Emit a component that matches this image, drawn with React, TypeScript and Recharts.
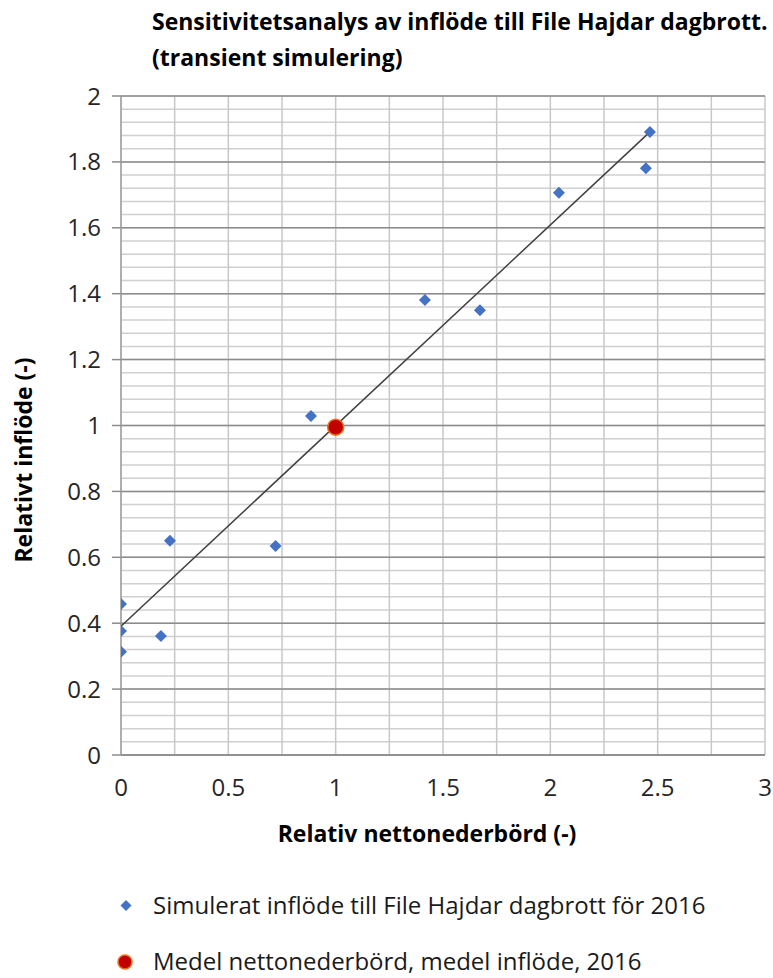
import React from "react";
import {
  ScatterChart,
  Scatter,
  XAxis,
  YAxis,
  ReferenceLine,
} from "recharts";

// simulated points: relative net precipitation vs relative inflow
const simX = [0, 0, 0, 0.186, 0.228, 0.72, 0.885, 1.416, 1.672, 2.04, 2.445, 2.464];
const simY = [0.458, 0.376, 0.313, 0.361, 0.65, 0.634, 1.029, 1.381, 1.35, 1.706, 1.781, 1.891];

const meanX = [1.0];
const meanY = [0.995];

// linear trendline end points
const trendX = [0, 2.464];
const trendY = [0.391, 1.891];

const xTicks = [0, 0.5, 1, 1.5, 2, 2.5, 3];
const yTicks = [0, 0.2, 0.4, 0.6, 0.8, 1, 1.2, 1.4, 1.6, 1.8, 2];

const TITLE1 = "Sensitivitetsanalys av inflöde till File Hajdar dagbrott.";
const TITLE2 = "(transient simulering)";
const X_LABEL = "Relativ nettonederbörd (-)";
const Y_LABEL = "Relativt inflöde (-)";
const LEG_SIM = "Simulerat inflöde till File Hajdar dagbrott för 2016";
const LEG_MEAN = "Medel nettonederbörd, medel inflöde, 2016";

const FONT = "'Open Sans', sans-serif";

const steps = (from: number, to: number, step: number) => {
  const out: number[] = [];
  for (let i = 0; from + i * step <= to + 1e-9; i++) out.push(+(from + i * step).toFixed(4));
  return out;
};
const minorY = steps(0, 2, 0.04);
const gridX = steps(0, 3, 0.25);

const simData = simX.map((x, i) => ({ x, y: simY[i] }));
const meanData = meanX.map((x, i) => ({ x, y: meanY[i] }));
const trendData = trendX.map((x, i) => ({ x, y: trendY[i] }));

const Diamond = (p: any) => {
  const { cx, cy } = p;
  const r = 6;
  return (
    <polygon
      points={`${cx},${cy - r} ${cx + r},${cy} ${cx},${cy + r} ${cx - r},${cy}`}
      fill="#4472c4"
    />
  );
};

const RedDot = (p: any) => (
  <circle cx={p.cx} cy={p.cy} r={8} fill="#c00000" stroke="#f07020" strokeWidth={1.5} />
);

export default function App() {
  const tick = { fill: "#262626", fontSize: 24, fontFamily: FONT };
  return (
    <div style={{ position: "absolute", left: 0, top: 0, width: 773, height: 978, background: "#fff", fontFamily: FONT }}>
      <div style={{ position: "absolute", left: 152, top: 3, fontWeight: 700, fontSize: 23, lineHeight: "36px", color: "#000", whiteSpace: "nowrap" }}>
        <div>{TITLE1}</div>
        <div>{TITLE2}</div>
      </div>
      <ScatterChart width={773} height={978} margin={{ top: 96, right: 8, bottom: 163, left: 0 }}>
        {minorY.map((v) => (
          <ReferenceLine key={"h" + v} y={v} stroke="#d0d0d0" strokeWidth={1.5} />
        ))}
        {gridX.map((v) => (
          <ReferenceLine key={"v" + v} x={v} stroke="#c8c8c8" strokeWidth={1.5} />
        ))}
        {yTicks.map((v) => (
          <ReferenceLine key={"m" + v} y={v} stroke="#8c8c8c" strokeWidth={1.5} />
        ))}
        <XAxis
          type="number"
          dataKey="x"
          domain={[0, 3]}
          ticks={xTicks}
          tick={tick}
          tickLine={false}
          tickSize={0}
          tickMargin={24}
          axisLine={{ stroke: "#8c8c8c", strokeWidth: 1.5 }}
          height={60}
          allowDataOverflow
        />
        <YAxis
          type="number"
          dataKey="y"
          domain={[0, 2]}
          ticks={yTicks}
          tick={tick}
          tickSize={9}
          tickMargin={11}
          tickLine={{ stroke: "#8c8c8c", strokeWidth: 1.5 }}
          axisLine={{ stroke: "#a0a0a0", strokeWidth: 1.5 }}
          width={121}
          allowDataOverflow
        />
        <Scatter
          data={trendData}
          line={{ stroke: "#404040", strokeWidth: 1.5 }}
          shape={() => <g />}
          isAnimationActive={false}
        />
        <Scatter data={simData} shape={Diamond} isAnimationActive={false} />
        <Scatter data={meanData} shape={RedDot} isAnimationActive={false} />
      </ScatterChart>
      <div
        style={{
          position: "absolute",
          left: 23,
          top: 460,
          transform: "translate(-50%, -50%) rotate(-90deg)",
          fontWeight: 700,
          fontSize: 23,
          whiteSpace: "nowrap",
          color: "#000",
        }}
      >
        {Y_LABEL}
      </div>
      <div
        style={{
          position: "absolute",
          left: 427,
          top: 833,
          transform: "translate(-50%, -50%)",
          fontWeight: 700,
          fontSize: 23,
          whiteSpace: "nowrap",
          color: "#000",
        }}
      >
        {X_LABEL}
      </div>
      <svg style={{ position: "absolute", left: 0, top: 880 }} width={773} height={98}>
        <polygon points="126,20 131.5,25.5 126,31 120.5,25.5" fill="#4472c4" />
        <circle cx={125} cy={82} r={7} fill="#c00000" stroke="#f07020" strokeWidth={1.5} />
        <text x={153} y={25.5} dy="0.35em" fontSize={24} fontFamily={FONT} fill="#1a1a1a">
          {LEG_SIM}
        </text>
        <text x={153} y={82} dy="0.35em" fontSize={24} fontFamily={FONT} fill="#1a1a1a">
          {LEG_MEAN}
        </text>
      </svg>
    </div>
  );
}
